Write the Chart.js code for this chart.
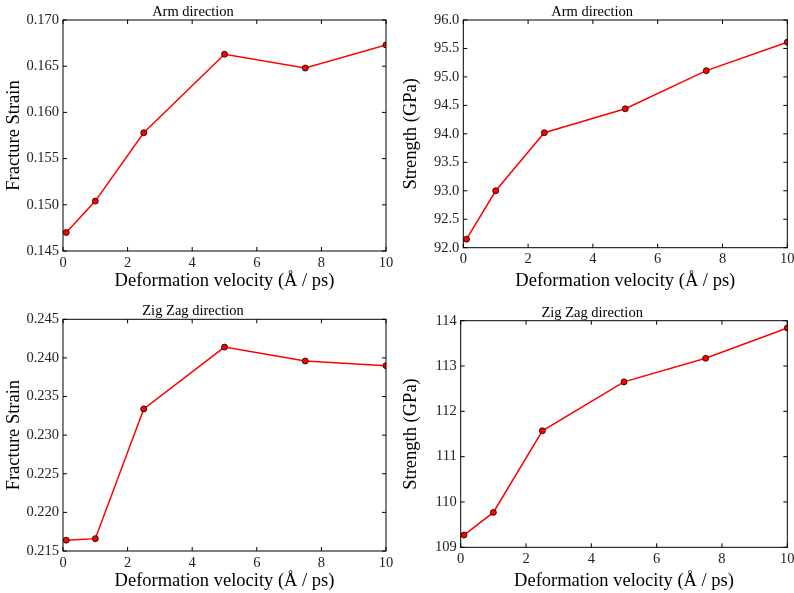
<!DOCTYPE html>
<html>
<head>
<meta charset="utf-8">
<script src="https://cdn.jsdelivr.net/npm/chart.js@4.4.0/dist/chart.umd.min.js"></script>
<style>
  body { margin: 0; background: #fff; }
  #wrap { position: relative; width: 794px; height: 593px; }
  canvas { position: absolute; }
</style>
</head>
<body>
<div id="wrap">
  <canvas id="c1" width="397" height="293" style="left:0;top:0"></canvas>
  <canvas id="c2" width="397" height="293" style="left:397px;top:0"></canvas>
  <canvas id="c3" width="397" height="300" style="left:0;top:293px"></canvas>
  <canvas id="c4" width="397" height="300" style="left:397px;top:293px"></canvas>
</div>
<script>
// deformation velocity (Å/ps)
var velocity = [0.1, 1, 2.5, 5, 7.5, 10];

var armStrain = [0.1470, 0.1504, 0.1578, 0.1663, 0.1648, 0.1673];
var armStrength = [92.15, 93.00, 94.02, 94.44, 95.11, 95.61];
var zigzagStrain = [0.2164, 0.2166, 0.2334, 0.2414, 0.2396, 0.2390];
var zigzagStrength = [109.27, 109.77, 111.57, 112.65, 113.17, 113.84];

var xTitle = 'Deformation velocity (Å / ps)';
var serif = '"Liberation Serif", "DejaVu Serif", serif';

// draws the box and inward ticks on all four sides
var frameTicks = {
    id: 'frameTicks',
    afterDatasetsDraw: function(chart) {
        var ctx = chart.ctx, a = chart.chartArea;
        var x = chart.scales.x, y = chart.scales.y;
        ctx.save();
        ctx.strokeStyle = '#000';
        ctx.lineWidth = 1;
        ctx.beginPath();
        x.ticks.forEach(function(t) {
            var px = x.getPixelForValue(t.value);
            ctx.moveTo(px, a.bottom); ctx.lineTo(px, a.bottom - 4);
            ctx.moveTo(px, a.top); ctx.lineTo(px, a.top + 4);
        });
        y.ticks.forEach(function(t) {
            var py = y.getPixelForValue(t.value);
            ctx.moveTo(a.left, py); ctx.lineTo(a.left + 4, py);
            ctx.moveTo(a.right, py); ctx.lineTo(a.right - 4, py);
        });
        ctx.stroke();
        ctx.strokeRect(a.left, a.top, a.right - a.left, a.bottom - a.top);
        ctx.restore();
    }
};

function makePanel(id, w, h, area, title, yTitle, values, ymin, ymax, step, dec) {
    var ctx = document.getElementById(id).getContext('2d');
    return new Chart(ctx, {
        type: 'line',
        data: {
            datasets: [{
                data: velocity.map(function(v, i) { return {x: v, y: values[i]}; }),
                borderColor: '#ff0000',
                borderWidth: 1.5,
                backgroundColor: '#ff0000',
                pointBackgroundColor: '#ff0000',
                pointBorderColor: '#000',
                pointBorderWidth: 0.8,
                pointRadius: 3,
                tension: 0
            }]
        },
        options: {
            responsive: false,
            animation: false,
            devicePixelRatio: 1,
            layout: { padding: { top: area.t - 19.4, right: w - area.r, left: 0, bottom: 0 } },
            plugins: {
                legend: { display: false },
                tooltip: { enabled: false },
                title: {
                    display: true,
                    text: title,
                    color: '#000',
                    font: { family: serif, size: 14.5, weight: 'normal' },
                    padding: { top: 3, bottom: -1 }
                }
            },
            scales: {
                x: {
                    type: 'linear',
                    min: 0, max: 10,
                    afterFit: function(s) { s.height = h - area.b; },
                    grid: { display: false },
                    border: { display: false },
                    ticks: {
                        stepSize: 2, autoSkip: false, maxRotation: 0,
                        color: '#222', padding: -5,
                        font: { family: serif, size: 14.5 }
                    },
                    title: {
                        display: true, text: xTitle, color: '#000',
                        font: { family: serif, size: 18.5 },
                        padding: { top: 0, bottom: 1 }
                    }
                },
                y: {
                    min: ymin, max: ymax,
                    afterFit: function(s) { s.width = area.l; },
                    grid: { display: false },
                    border: { display: false },
                    ticks: {
                        stepSize: step, autoSkip: false,
                        color: '#222', padding: -4,
                        font: { family: serif, size: 14.5 },
                        callback: function(v) { return v.toFixed(dec); }
                    },
                    title: {
                        display: true, text: yTitle, color: '#000',
                        font: { family: serif, size: 18.5 },
                        padding: { top: 3, bottom: 0 }
                    }
                }
            }
        },
        plugins: [frameTicks]
    });
}

makePanel('c1', 397, 293, {l: 63, t: 20, r: 386, b: 251}, 'Arm direction', 'Fracture Strain', armStrain, 0.145, 0.170, 0.005, 3);
makePanel('c2', 397, 293, {l: 66.3, t: 20, r: 390.3, b: 247.7}, 'Arm direction', 'Strength (GPa)', armStrength, 92, 96, 0.5, 1);
makePanel('c3', 397, 300, {l: 63, t: 26.3, r: 386, b: 258}, 'Zig Zag direction', 'Fracture Strain', zigzagStrain, 0.215, 0.245, 0.005, 3);
makePanel('c4', 397, 300, {l: 63.7, t: 27.7, r: 390.3, b: 254.3}, 'Zig Zag direction', 'Strength (GPa)', zigzagStrength, 109, 114, 1, 0);
</script>
</body>
</html>
